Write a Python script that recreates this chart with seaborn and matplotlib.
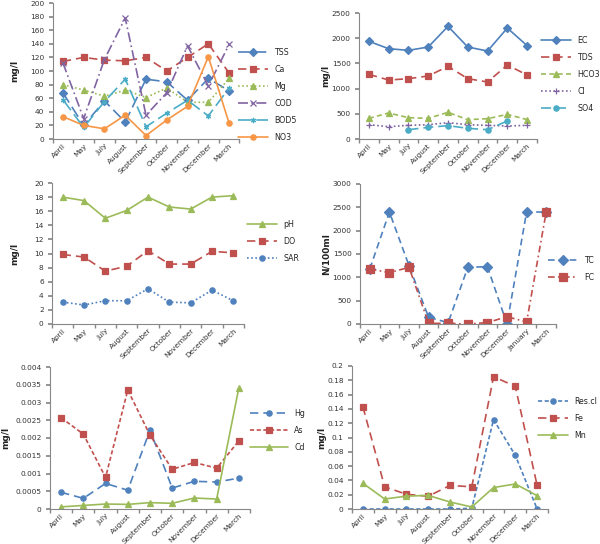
import numpy as np
import pandas as pd
import matplotlib
matplotlib.use('Agg')
import matplotlib.pyplot as plt
import seaborn as sns
from matplotlib.ticker import FuncFormatter, FixedLocator

# meses de muestreo
months = ['April', 'May', 'July', 'August', 'September', 'October', 'November', 'December', 'March']
months_coli = ['April', 'May', 'July', 'August', 'September', 'October', 'November', 'December', 'January', 'March']

# panel 1 (mg/l)
tss = [68, 20, 56, 25, 88, 84, 57, 89, 71]
ca = [114, 120, 116, 115, 120, 100, 120, 140, 97]
mg = [80, 72, 63, 72, 61, 75, 54, 54, 89]
cod = [112, 30, 117, 178, 35, 68, 137, 78, 139]
bod5 = [58, 17, 55, 88, 18, 38, 57, 34, 75]
no3 = [33, 20, 15, 35, 5, 28, 48, 121, 23]

# panel 2 (mg/l)
ec = [1938, 1792, 1759, 1825, 2235, 1825, 1746, 2202, 1852]
tds = [1283, 1170, 1197, 1250, 1442, 1197, 1131, 1468, 1270]
hco3 = [410, 516, 423, 410, 529, 384, 403, 489, 384]
cl = [284, 245, 271, 284, 324, 284, 271, 258, 271]
so4 = [np.nan, np.nan, 185, 231, 265, 212, 185, 357, np.nan]

# panel 3
ph = [18.0, 17.5, 15.0, 16.1, 18.0, 16.6, 16.3, 18.0, 18.2]
do = [9.86, 9.5, 7.5, 8.2, 10.4, 8.5, 8.5, 10.3, 10.1]
sar = [3.1, 2.7, 3.3, 3.3, 5.0, 3.1, 3.0, 4.8, 3.3]

# panel 4 (N/100ml)
tc = [1180, 2400, 1250, 143, 30, 1214, 1229, 0, 2400, 2400]
fc = [1179, 1100, 1214, 14, 14, 0, 30, 157, 43, 2400]

# panel 5
hg = [0.00047, 0.0003, 0.00072, 0.00053, 0.00222, 0.00059, 0.00078, 0.00076, 0.00087]
as_ = [0.00257, 0.00211, 0.00089, 0.00335, 0.00208, 0.00112, 0.00131, 0.00115, 0.00192]
cd = [0.00006, 0.0001, 0.00014, 0.00013, 0.00018, 0.00016, 0.00031, 0.00028, 0.00342]

# panel 6
rescl = [0, 0, 0, 0, 0, 0.001, 0.125, 0.075, 0]
fe = [0.143, 0.031, 0.0206, 0.0178, 0.033, 0.031, 0.185, 0.1715, 0.033]
mn = [0.036, 0.014, 0.018, 0.019, 0.0098, 0.0028, 0.030, 0.035, 0.0187]

BLUE = '#4F81BD'
RED = '#C0504D'
GREEN = '#9BBB59'
PURPLE = '#8064A2'
AQUA = '#4BACC6'
ORANGE = '#F79646'

sns.set_theme(style='white', rc={'axes.edgecolor': '#888888', 'axes.linewidth': 0.8})
plt.rcParams['font.family'] = ['DejaVu Sans']

W, H = 600, 544
FS = 5.3
fig = plt.figure(figsize=(W / 100, H / 100), dpi=100)


def make_ax(l, r, t, b):
    return fig.add_axes([l / W, (H - b) / H, (r - l) / W, (b - t) / H])


def fmt(v, pos):
    return '%g' % v


def draw(ax, labels, series, ymax, ystep, ylabel, ylab_x, leg_pos, msize=3.8, hlen=3.8):
    idx = np.arange(len(labels))
    for name, vals, color, marker, ls in series:
        df = pd.DataFrame({'x': idx, 'y': vals}).dropna()
        sns.lineplot(data=df, x='x', y='y', ax=ax, color=color, marker=marker,
                     markersize=msize, markeredgecolor=color, markeredgewidth=0.9,
                     linewidth=1.2, label=name, legend=False)
        ax.lines[-1].set_linestyle(ls)
    ax.set_xlim(-0.5, len(labels) - 0.5)
    ax.set_ylim(0, ymax)
    ax.set_yticks(np.arange(0, ymax + ystep / 2, ystep))
    ax.yaxis.set_major_formatter(FuncFormatter(fmt))
    ax.set_xticks(idx)
    ax.set_xticklabels(labels, rotation=45, ha='right', rotation_mode='anchor')
    ax.xaxis.set_minor_locator(FixedLocator(np.arange(-0.5, len(labels), 1.0)))
    ax.tick_params(axis='x', which='major', length=0, labelsize=FS, colors='#333333', pad=2.5)
    ax.tick_params(axis='x', which='minor', length=3, color='#888888', bottom=True)
    ax.tick_params(axis='y', length=3, color='#888888', labelsize=FS, colors='#333333', left=True, pad=3)
    for s in ['top', 'right']:
        ax.spines[s].set_visible(False)
    ax.set_xlabel('')
    ax.set_ylabel('')
    bb = ax.get_position()
    fig.text(ylab_x / W, bb.y0 + bb.height / 2, ylabel, rotation=90, fontsize=6.5,
             fontweight='bold', ha='center', va='center', color='#222222')
    ax.legend(loc='upper left', bbox_to_anchor=(leg_pos[0] / W, 1 - leg_pos[1] / H),
              bbox_transform=fig.transFigure, frameon=False, fontsize=FS + 0.4,
              handlelength=hlen, labelspacing=1.0, handletextpad=0.8, borderpad=0,
              borderaxespad=0)


ax1 = make_ax(52.5, 239.5, 3, 139)
draw(ax1, months, [
    ('TSS', tss, BLUE, 'D', (0, (7, 3))),
    ('Ca', ca, RED, 's', (0, (5, 3))),
    ('Mg', mg, GREEN, '^', (0, (1, 1.5))),
    ('COD', cod, PURPLE, 'x', (0, (6, 2, 1, 2))),
    ('BOD5', bod5, AQUA, (6, 2, 0), (0, (8, 3))),
    ('NO3', no3, ORANGE, 'o', '-'),
], 200, 20, 'mg/l', 15, (238, 48))

ax2 = make_ax(359, 537, 13, 139)
draw(ax2, months, [
    ('EC', ec, BLUE, 'D', '-'),
    ('TDS', tds, RED, 's', (0, (5, 3))),
    ('HCO3', hco3, GREEN, '^', (0, (3, 2))),
    ('Cl', cl, PURPLE, '+', (0, (1, 1.5))),
    ('SO4', so4, AQUA, 'o', (0, (6, 3))),
], 2500, 500, 'mg/l', 326, (541, 36))

ax3 = make_ax(52, 244, 183, 324)
draw(ax3, months, [
    ('pH', ph, GREEN, '^', '-'),
    ('DO', do, RED, 's', (0, (5, 3))),
    ('SAR', sar, BLUE, 'o', (0, (1, 1.5))),
], 20, 2, 'mg/l', 15, (247, 220))

ax4 = make_ax(360, 556, 184, 324)
draw(ax4, months_coli, [
    ('TC', tc, BLUE, 'D', (0, (4, 2.5))),
    ('FC', fc, RED, 's', (0, (4, 2, 1, 2))),
], 3000, 500, 'N/100ml', 326, (548, 256), msize=5.5)

ax5 = make_ax(50, 250, 367, 509)
draw(ax5, months, [
    ('Hg', hg, BLUE, 'o', (0, (5, 3))),
    ('As', as_, RED, 's', (0, (2.5, 1.5))),
    ('Cd', cd, GREEN, '^', '-'),
], 0.004, 0.0005, 'mg/l', 6, (250, 409), hlen=4.8)

ax6 = make_ax(352, 548, 366, 509)
draw(ax6, months, [
    ('Res.cl', rescl, BLUE, 'o', (0, (2.5, 1.5))),
    ('Fe', fe, RED, 's', (0, (5, 3))),
    ('Mn', mn, GREEN, '^', '-'),
], 0.2, 0.02, 'mg/l', 322, (538, 397))

fig.savefig('out.png', dpi=100)
